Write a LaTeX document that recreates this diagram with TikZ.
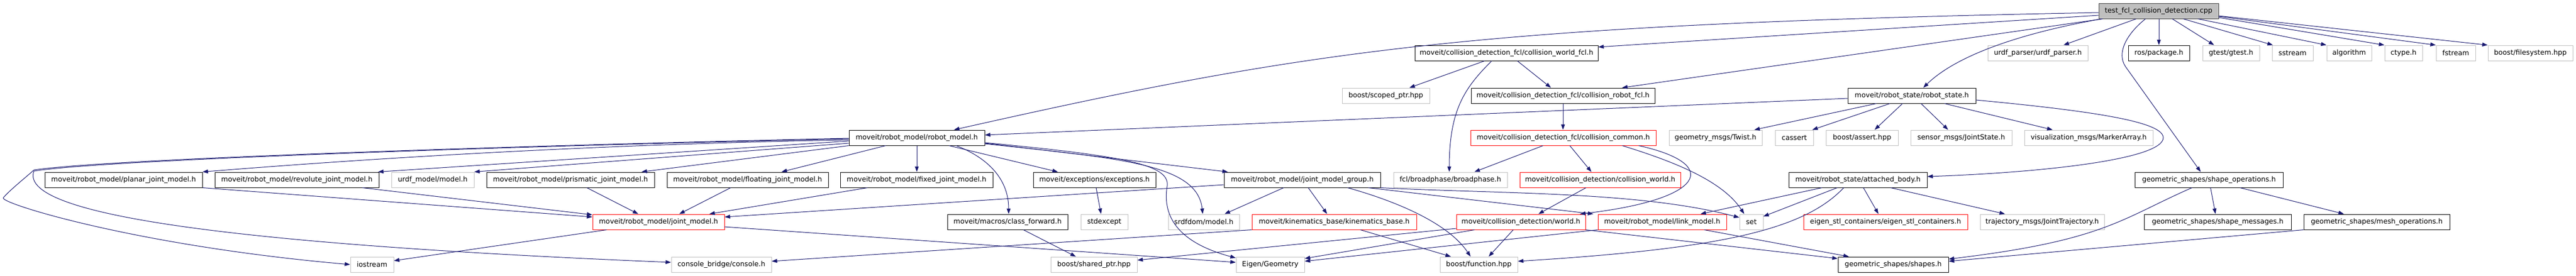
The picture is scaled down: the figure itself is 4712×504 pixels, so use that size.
\documentclass[tikz,border=0pt]{standalone}
\usepackage{fontspec}
\newfontfamily\dv{DejaVu Sans}
\usetikzlibrary{arrows.meta}
\definecolor{edgec}{HTML}{191970}
\definecolor{extc}{HTML}{BFBFBF}
\definecolor{rootfill}{HTML}{BFBFBF}
\definecolor{rootdraw}{HTML}{404040}
\begin{document}
\begin{tikzpicture}[x=1pt,y=-1pt,
  box/.style={draw, line width=1pt, minimum height=28pt, inner sep=0pt, anchor=center,
    font=\dv\fontsize{12.7pt}{15pt}\selectfont},
  doc/.style={box, draw=black},
  ext/.style={box, draw=extc},
  trunc/.style={box, draw=red},
  rootn/.style={box, draw=rootdraw, fill=rootfill},
  edge/.style={draw=edgec, line width=1pt, -{Triangle[length=10pt,width=7pt]}}]
\useasboundingbox (0,0) rectangle (4712,504);
% row 0
\node[rootn,minimum width=219pt] (root) at (3948.5,20) {test\_fcl\_collision\_detection.cpp};
% row 1
\node[doc,minimum width=335pt] (cwfcl) at (2755.5,97) {moveit/collision\_detection\_fcl/collision\_world\_fcl.h};
\node[ext,minimum width=183pt] (urdfp) at (3727.5,97) {urdf\_parser/urdf\_parser.h};
\node[doc,minimum width=112pt] (rospkg) at (3949,97) {ros/package.h};
\node[ext,minimum width=104pt] (gtest) at (4081,97) {gtest/gtest.h};
\node[ext,minimum width=75pt] (sstream) at (4193.5,97) {sstream};
\node[ext,minimum width=82pt] (algorithm) at (4297,97) {algorithm};
\node[ext,minimum width=69pt] (ctype) at (4396.5,97) {ctype.h};
\node[ext,minimum width=72pt] (fstream) at (4492,97) {fstream};
\node[ext,minimum width=155pt] (bfs) at (4628.5,97) {boost/filesystem.hpp};
% row 2
\node[ext,minimum width=160pt] (scoped) at (2535,175) {boost/scoped\_ptr.hpp};
\node[doc,minimum width=336pt] (crfcl) at (2859,175) {moveit/collision\_detection\_fcl/collision\_robot\_fcl.h};
\node[doc,minimum width=234pt] (rstate) at (3497,175) {moveit/robot\_state/robot\_state.h};
% row 3
\node[doc,minimum width=248pt] (rmodel) at (1677,252) {moveit/robot\_model/robot\_model.h};
\node[trunc,minimum width=339pt] (ccommon) at (2859.5,252) {moveit/collision\_detection\_fcl/collision\_common.h};
\node[ext,minimum width=170pt] (twist) at (3138,252) {geometry\_msgs/Twist.h};
\node[ext,minimum width=70pt] (cassert) at (3282,252) {cassert};
\node[ext,minimum width=132pt] (bassert) at (3406,252) {boost/assert.hpp};
\node[ext,minimum width=185pt] (jstate) at (3587.5,252) {sensor\_msgs/JointState.h};
\node[ext,minimum width=235pt] (marker) at (3820.5,252) {visualization\_msgs/MarkerArray.h};
% row 4
\node[doc,minimum width=288pt] (planar) at (226,329) {moveit/robot\_model/planar\_joint\_model.h};
\node[doc,minimum width=300pt] (revolute) at (543,329) {moveit/robot\_model/revolute\_joint\_model.h};
\node[ext,minimum width=151pt] (urdfm) at (791.5,329) {urdf\_model/model.h};
\node[doc,minimum width=307pt] (prismatic) at (1043.5,329) {moveit/robot\_model/prismatic\_joint\_model.h};
\node[doc,minimum width=295pt] (floating) at (1367.5,329) {moveit/robot\_model/floating\_joint\_model.h};
\node[doc,minimum width=279pt] (fixed) at (1676.5,329) {moveit/robot\_model/fixed\_joint\_model.h};
\node[doc,minimum width=224pt] (exceptions) at (2002,329) {moveit/exceptions/exceptions.h};
\node[doc,minimum width=286pt] (jmg) at (2382,329) {moveit/robot\_model/joint\_model\_group.h};
\node[ext,minimum width=208pt] (broad) at (2653,329) {fcl/broadphase/broadphase.h};
\node[trunc,minimum width=294pt] (cworld) at (2927,329) {moveit/collision\_detection/collision\_world.h};
\node[doc,minimum width=253pt] (attached) at (3398.5,329) {moveit/robot\_state/attached\_body.h};
\node[doc,minimum width=271pt] (shapeops) at (4040.5,329) {geometric\_shapes/shape\_operations.h};
% row 5
\node[trunc,minimum width=241pt] (jmodel) at (1204.5,406) {moveit/robot\_model/joint\_model.h};
\node[doc,minimum width=220pt] (classfwd) at (1843,406) {moveit/macros/class\_forward.h};
\node[ext,minimum width=86pt] (stdexc) at (2020,406) {stdexcept};
\node[ext,minimum width=130pt] (srdf) at (2202,406) {srdfdom/model.h};
\node[trunc,minimum width=301pt] (kin) at (2440.5,406) {moveit/kinematics\_base/kinematics\_base.h};
\node[trunc,minimum width=236pt] (world) at (2782,406) {moveit/collision\_detection/world.h};
\node[trunc,minimum width=235pt] (link) at (3040.5,406) {moveit/robot\_model/link\_model.h};
\node[ext,minimum width=43pt] (set) at (3203.5,406) {set};
\node[trunc,minimum width=300pt] (eigstl) at (3449,406) {eigen\_stl\_containers/eigen\_stl\_containers.h};
\node[ext,minimum width=227pt] (traj) at (3735.5,406) {trajectory\_msgs/JointTrajectory.h};
\node[doc,minimum width=269pt] (shapemsg) at (4056.5,406) {geometric\_shapes/shape\_messages.h};
\node[doc,minimum width=267pt] (meshops) at (4347.5,406) {geometric\_shapes/mesh\_operations.h};
% row 6
\node[ext,minimum width=79pt] (iostream) at (680.5,484) {iostream};
\node[ext,minimum width=183pt] (console) at (1319.5,484) {console\_bridge/console.h};
\node[ext,minimum width=158pt] (sharedptr) at (2001,484) {boost/shared\_ptr.hpp};
\node[ext,minimum width=125pt] (eigen) at (2323.5,484) {Eigen/Geometry};
\node[ext,minimum width=142pt] (bfunc) at (2705,484) {boost/function.hpp};
\node[doc,minimum width=202pt] (shapes) at (3463,484) {geometric\_shapes/shapes.h};

% edges from root
\draw[edge] ([yshift=-3pt]root.west) .. controls (2700,45) and (2400,90) .. ([xshift=68pt]rmodel.north);
\draw[edge] ([yshift=-8pt]root.west) -- ([yshift=11pt]cwfcl.east);
\draw[edge] ([xshift=8pt]root.south west) -- ([xshift=108pt]crfcl.north);
\draw[edge] ([xshift=6pt]root.south west) .. controls (3700,60) and (3580,100) .. ([xshift=21pt]rstate.north);
\draw[edge] ([xshift=-41pt]root.south) -- ([xshift=47pt]urdfp.north);
\draw[edge] ([xshift=-24pt]root.south) .. controls (3890,62) and (3871,97) .. (3888,122) -- ([xshift=-15pt]shapeops.north);
\draw[edge] ([xshift=0.5pt]root.south) -- (rospkg.north);
\draw[edge] ([xshift=25pt]root.south) -- ([xshift=-31pt]gtest.north);
\draw[edge] ([xshift=45pt]root.south) -- ([xshift=2pt]sstream.north west);
\draw[edge] ([xshift=72pt]root.south) -- (algorithm.north west);
\draw[edge] ([yshift=-12pt]root.east) -- (ctype.north west);
\draw[edge] ([yshift=-10pt]root.east) -- (fstream.north west);
\draw[edge] ([yshift=-9pt]root.east) -- (bfs.north west);
% collision world fcl
\draw[edge] ([xshift=-40pt]cwfcl.south) -- ([xshift=43pt]scoped.north);
\draw[edge] ([xshift=-27pt]cwfcl.south) .. controls (2680,160) and (2651,200) .. ([xshift=-2pt]broad.north);
\draw[edge] ([xshift=20pt]cwfcl.south) -- ([xshift=-22pt]crfcl.north);
\draw[edge] (crfcl.south) -- (crfcl.south |- ccommon.north);
% collision common
\draw[edge] ([xshift=-37pt]ccommon.south) -- ([xshift=44pt]broad.north);
\draw[edge] ([xshift=12pt]ccommon.south) -- ([xshift=-16pt]cworld.north);
\draw[edge] ([xshift=108pt]ccommon.south) .. controls (3060,295) and (3150,330) .. ([xshift=-13pt]set.north);
\draw[edge] ([xshift=138pt]ccommon.south) .. controls (3150,300) and (3120,365) .. ([xshift=108pt]world.north);
\draw[edge] ([xshift=-26pt]cworld.south) -- ([xshift=32pt]world.north);
% world
\draw[edge] ([yshift=-12pt]world.west) -- ([yshift=8pt]sharedptr.east);
\draw[edge] ([xshift=-85pt]world.south) -- ([yshift=11pt]eigen.east);
\draw[edge] ([xshift=-14pt]world.south) -- ([xshift=18pt]bfunc.north);
\draw[edge] (world.south east) -- ([yshift=11pt]shapes.west);
% link model
\draw[edge] (link.south west) -- ([yshift=6pt]eigen.east);
\draw[edge] ([xshift=77pt]link.south) -- ([xshift=-81pt]shapes.north);
% joint model group
\draw[edge] ([yshift=-9pt]jmg.west) -- ([yshift=9pt]jmodel.east);
\draw[edge] ([xshift=-34pt]jmg.south) -- ([xshift=38pt]srdf.north);
\draw[edge] ([xshift=11pt]jmg.south) -- ([xshift=-13pt]kin.north);
\draw[edge] ([xshift=83pt]jmg.south) .. controls (2560,370) and (2650,410) .. ([xshift=-15pt]bfunc.north);
\draw[edge] ([xshift=121pt]jmg.south) -- ([xshift=-126pt]link.north);
\draw[edge] (jmg.south east) .. controls (2750,355) and (3000,350) .. ([yshift=8pt]set.west);
% kinematics base
\draw[edge] ([xshift=48pt]kin.south) -- ([xshift=-51pt]bfunc.north);
\draw[edge] (kin.south west) -- ([yshift=6pt]console.east);
% joint model
\draw[edge] ([xshift=-95pt]jmodel.south) -- ([yshift=7pt]iostream.east);
\draw[edge] ([yshift=-9pt]jmodel.east) -- ([yshift=4pt]eigen.west);
% robot model
\draw[edge] ([yshift=-4pt]rmodel.west) .. controls (1200,262) and (800,280) .. (planar.north east);
\draw[edge] ([yshift=-6pt]rmodel.west) -- ([xshift=-2pt]revolute.north east);
\draw[edge] ([yshift=-10pt]rmodel.west) -- (urdfm.north east);
\draw[edge] (rmodel.south west) -- ([xshift=130pt]prismatic.north);
\draw[edge] ([xshift=-57pt]rmodel.south) -- ([xshift=62pt]floating.north);
\draw[edge] (rmodel.south) -- (rmodel.south |- fixed.north);
\draw[edge] ([xshift=59pt]rmodel.south) -- ([xshift=-67pt]exceptions.north);
\draw[edge] ([yshift=-10pt]rmodel.east) -- ([xshift=-136pt]jmg.north);
\draw[edge] ([xshift=72pt]rmodel.south) .. controls (1810,290) and (1845,330) .. ([xshift=2pt]classfwd.north);
\draw[edge] ([yshift=-11pt]rmodel.east) .. controls (2050,290) and (2190,300) .. ([xshift=-2pt]srdf.north);
\draw[edge] ([yshift=-9pt]rmodel.east) .. controls (2050,285) and (2140,300) .. (2135,340)
  .. controls (2125,400) and (2160,445) .. ([yshift=12pt]eigen.west);
\draw[edge] ([yshift=-1pt]rmodel.west) .. controls (1000,265) and (200,290) .. (62,311)
  .. controls (55,318) and (15,350) .. (6,362) .. controls (0,372) and (250,450) .. (iostream.west);
\draw[edge] ([yshift=-2pt]rmodel.west) .. controls (1000,266) and (200,291) .. (62,313)
  .. controls (30,400) and (500,450) .. ([yshift=4pt]console.west);
% simple includes
\draw[edge] ([xshift=3pt]exceptions.south) -- ([xshift=-6pt]stdexc.north);
\draw[edge] ([xshift=29pt]classfwd.south) -- ([xshift=-33pt]sharedptr.north);
\draw[edge] ([xshift=-31pt]floating.south) -- ([xshift=38pt]jmodel.north);
\draw[edge] ([xshift=-90pt]fixed.south) -- ([xshift=93pt]jmodel.north);
\draw[edge] ([xshift=30pt]prismatic.south) -- ([xshift=-37pt]jmodel.north);
\draw[edge] (planar.south east) -- ([yshift=9pt]jmodel.west);
\draw[edge] ([xshift=120pt]revolute.south) -- ([yshift=13pt]jmodel.west);
% attached body
\draw[edge] ([xshift=-66pt]attached.south) -- ([xshift=70pt]link.north);
\draw[edge] ([xshift=-38pt]attached.south) -- ([yshift=10pt]set.east);
\draw[edge] ([xshift=-26pt]attached.south) .. controls (3300,420) and (3150,455) .. ([yshift=6pt]bfunc.east);
\draw[edge] ([xshift=10pt]attached.south) -- ([xshift=-13pt]eigstl.north);
\draw[edge] ([xshift=60pt]attached.south) -- ([xshift=-68pt]traj.north);
% robot state
\draw[edge] ([yshift=-5pt]rstate.west) -- ([yshift=5pt]rmodel.east);
\draw[edge] ([xshift=-65pt]rstate.south) -- ([xshift=71pt]twist.north);
\draw[edge] ([xshift=-40pt]rstate.south) -- ([xshift=33pt]cassert.north);
\draw[edge] ([xshift=-17pt]rstate.south) -- ([xshift=23pt]bassert.north);
\draw[edge] ([xshift=17pt]rstate.south) -- ([xshift=-24pt]jstate.north);
\draw[edge] ([xshift=60pt]rstate.south) -- ([xshift=-66pt]marker.north);
\draw[edge] ([yshift=-8pt]rstate.east) .. controls (3850,205) and (3957,225) .. (3957,252)
  .. controls (3957,290) and (3750,315) .. ([yshift=6pt]attached.east);
% shape operations
\draw[edge] ([xshift=3pt]shapeops.south) -- ([xshift=-4pt]shapemsg.north);
\draw[edge] ([xshift=57pt]shapeops.south) -- ([xshift=-60pt]meshops.north);
\draw[edge] ([xshift=-31pt]shapeops.south) .. controls (3880,400) and (3850,440) .. ([yshift=10pt]shapes.east);
\draw[edge] (meshops.south west) -- ([yshift=6pt]shapes.east);
\end{tikzpicture}
\end{document}
